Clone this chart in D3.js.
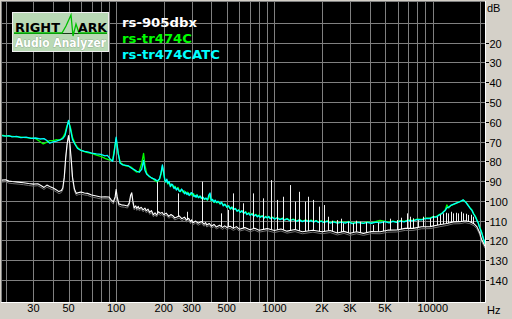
<!DOCTYPE html>
<html>
<head>
<meta charset="utf-8">
<script src="https://cdn.jsdelivr.net/npm/d3@7/dist/d3.min.js"></script>
<style>
html,body{margin:0;padding:0;background:#D4D0C8;}
svg{display:block;}
</style>
</head>
<body>
<svg id="chart" width="512" height="319"></svg>
<script>
// ---------------- data ----------------
const seriesNames = ["rs-905dbx", "rs-tr474C", "rs-tr474CATC"];
const yTickValues = [-20, -30, -40, -50, -60, -70, -80, -90, -100, -110, -120, -130, -140];
const yGridValues = [-10, -20, -30, -40, -50, -60, -70, -80, -90, -100, -110, -120, -130, -140];
const xTickValues = [30, 50, 100, 200, 300, 500, 1000, 2000, 3000, 5000, 10000];
const xTickLabels = ["30", "50", "100", "200", "300", "500", "1000", "2K", "3K", "5K", "10000"];
const xGridValues = [20, 30, 40, 50, 60, 70, 80, 90, 100, 200, 300, 400, 500, 600, 700, 800, 900,
  1000, 2000, 3000, 4000, 5000, 6000, 7000, 8000, 9000, 10000, 20000];

// rs-tr474CATC (cyan)  [Hz, dB]
const cyanData = [
[19,-67.0],[20,-67.3],[21,-67.0],[22,-67.6],[23.5,-67.4],[25,-68.0],[27,-67.8],[29,-68.4],[31,-68.2],[33,-68.7],
[35,-68.5],[36.5,-69.5],[38,-70.8],[40,-70.2],[42,-69.8],[44,-69.2],[46,-68.5],[47.5,-67.0],[48.5,-64],[50,-59.3],
[51.5,-64],[53,-69],[55,-71.5],[57,-73.5],[60,-74.5],[63,-75],[66,-75.2],[70,-75.8],[75,-76.2],[80,-76.5],
[85,-77.2],[88,-77.0],[92,-79],[95,-80],[97,-76],[100,-67.8],[103,-76],[106,-81],[110,-81.8],[115,-82],
[120,-82.3],[125,-83.5],[130,-84.2],[135,-85],[140,-85.5],[145,-84],[149,-79.5],[152,-84.5],[156,-86.5],[162,-87.5],
[168,-88.5],[175,-89],[182,-90],[188,-88.8],[192,-86],[196,-81.8],[200,-86],[203,-89.5],[206,-90.5],[209,-89],
[212,-91],[216,-90.2],[220,-92.8],[224,-91.5],[228,-92],[232,-93.8],[236,-93],[240,-94.5],[245,-93.6],[250,-95],
[254,-95.3],[259,-94],[265,-95],[270,-96.4],[275,-95.5],[280,-96.8],[285,-96],[289,-97.3],[293,-97],[298,-95.8],
[305,-96.5],[310,-97.8],[315,-97.2],[320,-98.2],[325,-97],[332,-98.4],[340,-97.6],[347,-98.8],[355,-98.2],[362,-99.2],
[370,-98.6],[378,-99.5],[385,-97],[392,-96],[398,-99.8],[405,-99.2],[415,-100.6],[422,-99.6],[430,-100.8],[440,-100.2],
[454,-101.5],[462,-100.6],[475,-102.5],[485,-101.6],[500,-103.2],[512,-102.4],[525,-104],[537,-103.2],[550,-104.5],[565,-103.8],
[580,-105.2],[593,-104.6],[607,-105.8],[622,-105],[640,-106.3],[655,-105.6],[670,-106.9],[686,-106.2],[702,-107.3],[720,-106.6],
[740,-107.7],[760,-107],[780,-108],[796,-107.3],[812,-108.3],[835,-107.6],[860,-108.7],[880,-108],[900,-108.6],[920,-107.9],
[939,-109],[970,-108.4],[1000,-109.2],[1040,-108.6],[1086,-109.5],[1120,-108.9],[1150,-109.7],[1200,-109.1],[1250,-110],[1310,-109.4],
[1385,-110.3],[1440,-109.6],[1500,-110.5],[1570,-109.8],[1650,-110.5],[1700,-109.9],[1764,-110.7],[1830,-110.1],[1900,-110.9],[1970,-110.3],
[2050,-110.9],[2150,-110.3],[2248,-111.2],[2370,-110.6],[2500,-111.3],[2650,-110.7],[2800,-111.2],[2950,-110.6],[3100,-111.5],[3350,-110.9],
[3650,-111.4],[3850,-110.8],[4100,-111.3],[4400,-110.7],[4653,-111.1],[5000,-110.5],[5300,-111.1],[5600,-110.4],[5933,-110.9],[6250,-110.2],
[6600,-110.6],[7000,-109.9],[7520,-110.1],[8000,-109.4],[8500,-109.6],[9000,-108.9],[9630,-108.9],[10100,-108.1],[10500,-108.2],[11000,-107.1],
[11400,-106.5],[11700,-105.5],[12000,-104.8],[12280,-103.5],[12600,-103.2],[13000,-102.3],[13700,-101.5],[14500,-100.8],[15200,-100],[15600,-99.5],
[16200,-100.8],[16700,-102.2],[17220,-103.7],[17700,-104.8],[18100,-106.5],[18600,-108],[18990,-109.7],[19400,-111.2],[19700,-113],[20100,-114.8],
[20430,-116.4],[21000,-119.5],[21400,-121.5]
];

// rs-tr474C (green)  [Hz, dB]
const greenData = [
[19,-66.8],[20,-67.1],[22,-67.4],[25,-67.8],[28,-68.1],[31,-68.5],[33,-70],[34.6,-71.2],[36,-70.5],[38,-69.5],
[40,-69.5],[42,-69],[44,-69.3],[46,-68],[47.5,-66],[48.5,-63],[50,-59.8],[51.5,-63],[53,-68],[55,-71],
[57,-73],[60,-74.5],[65,-75.5],[70,-76],[75,-76.8],[80,-77.5],[85,-78.5],[90,-79.3],[95,-79.5],[97,-75],
[100,-68.5],[103,-76],[106,-80.5],[110,-81.5],[115,-82.3],[120,-82.5],[125,-83],[130,-84.5],[135,-85.5],[140,-85],
[145,-81],[149,-76],[152,-82],[156,-86],[162,-87.8],[168,-88.3],[175,-89.5],[182,-90.5],[188,-89],[192,-86.5],
[196,-82.5],[200,-86.5],[204,-90.2],[208,-89.5],[212,-91.5],[217,-90.8],[221,-92.5],[226,-91.8],[230,-93.2],[235,-92.6],
[240,-94],[246,-93.2],[252,-95.2],[258,-94.4],[264,-95.6],[270,-95],[276,-96.3],[282,-95.6],[288,-96.7],[295,-96.1],
[302,-97.2],[308,-96.3],[314,-97.8],[322,-97],[330,-98.3],[338,-97.5],[345,-98.7],[352,-98],[360,-99.3],[368,-98.6],
[376,-99.6],[384,-98.8],[392,-97],[400,-100],[408,-99.4],[417,-100.8],[425,-100],[434,-101],[444,-100.3],[454,-101.6],
[465,-100.8],[478,-102.3],[490,-101.8],[503,-103.3],[515,-102.6],[528,-104.2],[540,-103.1],[552,-104.4],[568,-103.9],[583,-105.2],
[597,-104.5],[611,-105.7],[627,-105.1],[644,-106.2],[660,-105.5],[675,-106.7],[691,-106],[707,-107.2],[725,-106.4],[745,-107.5],
[765,-106.8],[785,-107.9],[802,-107.1],[820,-108.2],[840,-107.5],[865,-108.6],[885,-107.8],[905,-108.7],[925,-108],[945,-108.8],
[975,-108.2],[1005,-109.1],[1045,-108.5],[1090,-109.3],[1125,-108.7],[1160,-109.6],[1205,-108.9],[1255,-109.9],[1315,-109.2],[1390,-110.1],
[1445,-109.5],[1505,-110.3],[1575,-109.6],[1655,-110.4],[1705,-109.7],[1770,-110.6],[1835,-109.9],[1905,-110.7],[1975,-110.1],[2055,-110.8],
[2155,-110.1],[2255,-111],[2375,-110.4],[2505,-111.1],[2655,-110.5],[2805,-111],[2955,-110.4],[3105,-111.3],[3355,-110.7],[3655,-111.2],
[3855,-110.6],[4105,-111.1],[4400,-110.4],[4650,-109.8],[5000,-110.4],[5300,-110.9],[5600,-110.2],[5933,-110.7],[6250,-110],[6600,-110.4],
[7000,-109.7],[7520,-109.9],[8000,-109.2],[8500,-109.4],[9000,-108.7],[9630,-108.6],[10100,-107.9],[10500,-108],[11000,-106.9],[11400,-106.3],
[11700,-105.6],[12000,-104.6],[12280,-102],[12600,-103.6],[13000,-102.4],[13700,-101.6],[14500,-100.6],[15200,-100.1],[15600,-99.6],[16200,-100.6],
[16700,-102],[17220,-103.5],[17700,-104.6],[18100,-106.3],[18600,-107.8],[18990,-109.4],[19400,-111],[19700,-112.8],[20100,-114.5],[20430,-116],
[21000,-119.8],[21400,-121.8]
];

// rs-905dbx (white) noise floor  [Hz, dB]
const whiteBase = [
[19,-89.5],[20,-89.3],[21,-90],[22,-90.2],[24,-90.5],[26,-90.8],[28,-91.2],[30,-91.5],[32,-91.3],[33.5,-92.2],
[35,-93.2],[36.5,-92],[38,-92.7],[40,-93.5],[42,-94.5],[43.5,-95.3],[45,-94.8],[46,-93.5],[47,-88],[48,-78],
[49,-71],[50,-67],[51,-71],[52,-79],[53,-88],[54.5,-94],[56,-96.2],[58,-95.8],[60,-95.5],[63,-96],
[66,-96.2],[70,-97],[75,-97.5],[80,-98],[85,-97.9],[90,-98],[93,-99.5],[96,-100.5],[98.5,-98],[100,-94.2],
[101.5,-98],[104,-101.5],[108,-102],[113,-102.2],[118,-102.6],[121,-101],[123.5,-97],[125.5,-95.9],[127.5,-100],[130,-103.5],
[133,-102.5],[135,-103.8],[138,-102.8],[140,-104],[144,-103.2],[148,-104.5],[152,-103.6],[155,-105],[159,-104.2],[163,-105.8],
[167,-104.9],[172,-107],[176,-106],[180,-107.1],[185,-105.5],[190,-106.3],[195,-105.8],[200,-107],[207,-106.2],[215,-107.8],
[222,-106.9],[229,-107.6],[234,-108.6],[240,-108.3],[250,-107.6],[260,-109],[270,-108.2],[279,-109.7],[287,-108.8],[295,-110.5],
[300,-109.6],[306,-111],[318,-110.2],[330,-111.3],[345,-110.4],[360,-111.8],[367,-110.9],[374,-112.2],[387,-111.4],[400,-112.8],
[415,-111.9],[430,-113.2],[450,-112.3],[470,-113.4],[485,-112.6],[500,-113.4],[525,-112.8],[550,-113.9],[575,-113],[600,-114.3],
[650,-113.5],[700,-114.6],[750,-113.8],[800,-114.8],[900,-114],[1000,-115],[1100,-114.2],[1200,-115.3],[1350,-114.5],[1500,-115.6],
[1750,-114.8],[2000,-115.6],[2250,-115],[2500,-116.2],[2750,-115.4],[3000,-116.4],[3300,-115.6],[3650,-116.4],[4100,-115.5],[4650,-115.6],
[5200,-114.8],[5930,-114.7],[6700,-113.9],[7500,-113.9],[8500,-113.1],[9630,-113],[11000,-112.1],[12280,-111.4],[13500,-110.6],[14900,-110.5],
[16000,-110],[17200,-110.5],[18200,-111.5],[19000,-113],[19800,-116],[20430,-119.8],[21000,-121.5],[21400,-123]
];

// rs-905dbx (white) spurious tones  [Hz, peak dB]
const whiteSpikes = [
[180,-90.3],[246,-96.2],[280,-105.5],[351,-90.3],[458,-106.3],[510,-104.6],[546,-96.2],[632,-101.2],[737,-96.2],[845,-98.7],
[949,-89.5],[1045,-99.5],[1140,-97.9],[1257,-92],[1351,-100.4],[1439,-95.4],[1563,-100.4],[1640,-97.9],[1748,-99.5],[1924,-102.9],
[2061,-102.1],[2193,-108],[2300,-110],[2480,-109.7],[2620,-109],[2729,-111.3],[2900,-110.5],[3155,-111.3],[3300,-110],[3478,-110.5],
[3800,-110.8],[4221,-112.2],[4500,-111],[4883,-110.5],[5400,-109],[5930,-109.7],[6300,-108.5],[6862,-106.3],[7200,-108],[7551,-108.8],
[8121,-109.7],[8700,-108],[9630,-108.8],[10100,-107.5],[10620,-108],[11100,-107],[11680,-106.3],[12100,-106],[12560,-106.3],[13000,-105.5],
[13510,-106.3],[14000,-106],[14530,-106.3],[15100,-105.5],[15630,-106.3],[16300,-106.5],[16810,-107.1],[17500,-107],[18080,-108]
];

// ---------------- drawing ----------------
const svg = d3.select("#chart");
const plot = {x0: 2, x1: 485, y0: 2, y1: 302};

const x = d3.scaleLog().domain([19, 21400]).range([plot.x0, plot.x1]);
const y = d3.scaleLinear().domain([0, -150]).range([3.1, 299.8]);
const crisp = v => Math.round(v) + 0.5;

svg.append("rect").attr("width", 512).attr("height", 319).attr("fill", "#D4D0C8");

svg.append("rect").attr("x", plot.x0).attr("y", plot.y0)
  .attr("width", plot.x1 - plot.x0).attr("height", plot.y1 - plot.y0).attr("fill", "#000");

const defs = svg.append("defs");
defs.append("clipPath").attr("id", "plotClip")
  .append("rect").attr("x", plot.x0).attr("y", plot.y0)
  .attr("width", plot.x1 - plot.x0).attr("height", plot.y1 - plot.y0);

const grid = svg.append("g").attr("stroke", "#808080").attr("stroke-width", 1).attr("clip-path", "url(#plotClip)");
grid.selectAll("line.v").data(xGridValues).join("line").attr("class", "v")
  .attr("x1", d => crisp(x(d))).attr("x2", d => crisp(x(d)))
  .attr("y1", plot.y0).attr("y2", plot.y1);
grid.selectAll("line.h").data(yGridValues).join("line").attr("class", "h")
  .attr("y1", d => crisp(y(d))).attr("y2", d => crisp(y(d)))
  .attr("x1", plot.x0).attr("x2", plot.x1);

// frame (sunken look)
svg.append("path").attr("d", `M${plot.x0 - 0.5},${plot.y1}V${plot.y0 - 0.5}H${plot.x1}`)
  .attr("fill", "none").attr("stroke", "#808080");
svg.append("path").attr("d", `M${plot.x0 - 1},${plot.y1 + 0.5}H${plot.x1 + 0.5}V${plot.y0 - 1}`)
  .attr("fill", "none").attr("stroke", "#FFFFFF");

const line = d3.line().x(d => x(d[0])).y(d => y(d[1]));
const traces = svg.append("g").attr("clip-path", "url(#plotClip)");

// white shadow (min envelope look)
traces.append("path").datum(whiteBase).attr("d", line)
  .attr("fill", "none").attr("stroke", "#707070").attr("stroke-width", 1)
  .attr("transform", "translate(0,2)");

// green and cyan
traces.append("path").datum(greenData).attr("d", line)
  .attr("fill", "none").attr("stroke", "#00FF00").attr("stroke-width", 1.3).attr("stroke-linejoin", "round");
traces.append("path").datum(cyanData).attr("d", line)
  .attr("fill", "none").attr("stroke", "#00FFFF").attr("stroke-width", 1.3).attr("stroke-linejoin", "round");

// white spikes, clipped to the region above the white floor
const aboveArea = d3.area().x(d => x(d[0])).y0(plot.y0).y1(d => y(d[1]));
defs.append("clipPath").attr("id", "aboveWhite")
  .append("path").datum(whiteBase).attr("d", aboveArea);

traces.append("g").attr("clip-path", "url(#aboveWhite)")
  .selectAll("line").data(whiteSpikes).join("line")
  .attr("x1", d => crisp(x(d[0]))).attr("x2", d => crisp(x(d[0])))
  .attr("y1", d => y(d[1])).attr("y2", plot.y1)
  .attr("stroke", "#F0F0F0").attr("stroke-width", 1);

traces.append("path").datum(whiteBase).attr("d", line)
  .attr("fill", "none").attr("stroke", "#FFFFFF").attr("stroke-width", 1.1).attr("stroke-linejoin", "round");

// axis labels
const labelFont = "'Liberation Sans', Arial, sans-serif";
const yAxis = svg.append("g").attr("font-family", labelFont).attr("font-size", 11).attr("fill", "#000");
const yl = yAxis.selectAll("g").data(yTickValues).join("g")
  .attr("transform", d => `translate(0,${Math.round(y(d))})`);
yl.append("rect").attr("class", "minus").attr("x", 486).attr("y", 0).attr("width", 3).attr("height", 1)
  .attr("fill", "#000").attr("shape-rendering", "crispEdges");
yl.append("text").attr("x", 489.5).attr("y", 4.5).text(d => String(Math.abs(d)));
yAxis.append("text").attr("x", 487).attr("y", 12).text("dB");

const xAxis = svg.append("g").attr("font-family", labelFont).attr("font-size", 11).attr("fill", "#000");
xAxis.selectAll("text").data(xTickValues).join("text")
  .attr("x", d => x(d)).attr("y", 312).attr("text-anchor", "middle")
  .text((d, i) => xTickLabels[i]);
xAxis.append("text").attr("x", 487).attr("y", 314).text("Hz");

// logo
const logo = svg.append("g");
logo.append("rect").attr("x", 12.5).attr("y", 12.5).attr("width", 96).attr("height", 39)
  .attr("fill", "#B9D9B5").attr("stroke", "#F0F0F0").attr("stroke-width", 1);
logo.append("line").attr("x1", 14).attr("x2", 107).attr("y1", 33.5).attr("y2", 33.5)
  .attr("stroke", "#1a3a1a").attr("stroke-width", 1.2);
logo.append("polyline")
  .attr("points", "14,33 62,33 66,26 71,15 73,36 76,24 79,33 107,33")
  .attr("fill", "none").attr("stroke", "#00C000").attr("stroke-width", 1.3);
logo.append("text").attr("x", 15).attr("y", 31.5).attr("font-family", "'DejaVu Sans', sans-serif")
  .attr("font-weight", "bold").attr("font-size", 12).attr("textLength", 45).attr("lengthAdjust", "spacingAndGlyphs")
  .attr("fill", "#000").text("RIGHT");
logo.append("text").attr("x", 78).attr("y", 31.5).attr("font-family", "'DejaVu Sans', sans-serif")
  .attr("font-weight", "bold").attr("font-size", 12).attr("textLength", 29).attr("lengthAdjust", "spacingAndGlyphs")
  .attr("fill", "#000").text("ARK");
logo.append("text").attr("x", 15).attr("y", 46.5).attr("font-family", "'DejaVu Sans', sans-serif")
  .attr("font-weight", "bold").attr("font-size", 11.5).attr("textLength", 91).attr("lengthAdjust", "spacingAndGlyphs")
  .attr("fill", "#FFFFFF").attr("stroke", "#6E8C6E").attr("stroke-width", 0.5).attr("paint-order", "stroke")
  .text("Audio Analyzer");

// legend
const legendColors = ["#FFFFFF", "#00FF00", "#00FFFF"];
const legendWidths = [75, 70, 98];
svg.append("g").selectAll("text").data(seriesNames).join("text")
  .attr("x", 122).attr("y", (d, i) => 26.5 + i * 16)
  .attr("font-family", "'DejaVu Sans', sans-serif").attr("font-weight", "bold").attr("font-size", 12)
  .attr("textLength", (d, i) => legendWidths[i]).attr("lengthAdjust", "spacingAndGlyphs")
  .attr("fill", (d, i) => legendColors[i]).text(d => d);
</script>
</body>
</html>
